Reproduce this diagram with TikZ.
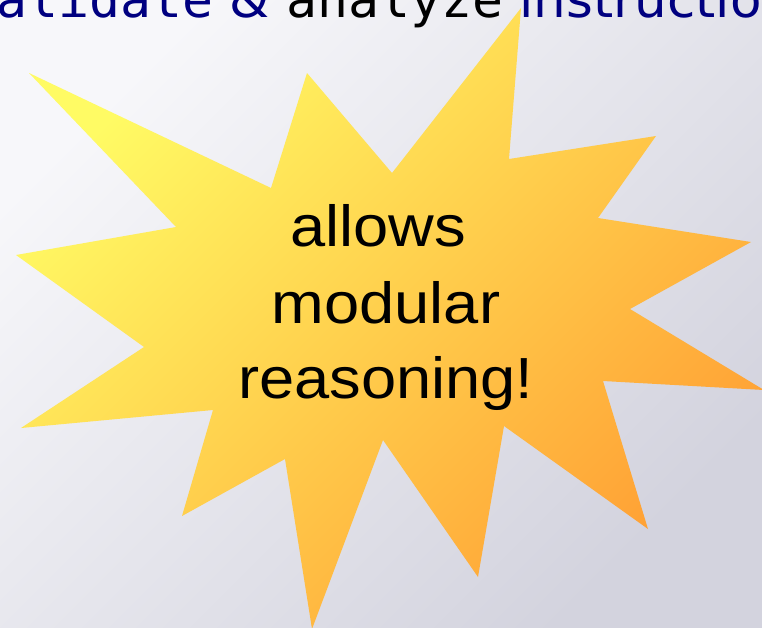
\documentclass[tikz,border=0pt]{standalone}
\usepackage{fontspec}
\setmainfont{Liberation Sans}
\newfontfamily\burstfont[FakeStretch=1.09]{Liberation Sans}
\newfontfamily\codefont[FakeStretch=1.03]{DejaVu Sans Mono}
\newfontfamily\titlefont[FakeStretch=1.03]{DejaVu Sans}
\definecolor{slidetop}{HTML}{F7F7FA}
\definecolor{slidebot}{HTML}{D3D3DE}
\definecolor{burstyellow}{HTML}{FFFB64}
\definecolor{burstorange}{HTML}{FFA034}
\definecolor{titlenavy}{HTML}{000080}
\tikzset{
  burst/.style={top color=burstyellow, bottom color=burstorange, shading angle=45},
  word/.style={anchor=base, inner sep=0pt, font=\burstfont\fontsize{58}{70}\selectfont}
}
\begin{document}
\begin{tikzpicture}[x=1pt, y=-1pt, line join=round]
    \useasboundingbox (0,0) rectangle (762,627);
    \clip (0,0) rectangle (762,627);
    \shade[top color=slidetop, bottom color=slidebot, shading angle=45] (0,0) rectangle (762,627);
    % heading, cut off by the top edge
    \node[anchor=base west, inner sep=0pt, text=titlenavy, font=\titlefont\fontsize{50}{60}\selectfont] (title) at (-4,17)
        {{\codefont alidate} \& {\codefont\color{black}analyze} instruction};
    \path
    (29,73) coordinate (t1)
    (271,188) coordinate (v1)
    (307,73) coordinate (t2)
    (392,173) coordinate (v2)
    (521,8) coordinate (t3)
    (509,159) coordinate (v3)
    (656,136) coordinate (t4)
    (598,218) coordinate (v4)
    (751,242) coordinate (t5)
    (630,309) coordinate (v5)
    (764,390) coordinate (t6)
    (603,381) coordinate (v6)
    (648,529) coordinate (t7)
    (504,426) coordinate (v7)
    (478,577) coordinate (t8)
    (383,440) coordinate (v8)
    (312,629) coordinate (t9)
    (285,459) coordinate (v9)
    (182,516) coordinate (t10)
    (213,410) coordinate (v10)
    (21,428) coordinate (t11)
    (144,347) coordinate (v11)
    (16,255) coordinate (t12)
    (176,227) coordinate (v12)
    ;
    \shade[burst] (t1) -- (v1) \foreach \i in {2,...,12}{ -- (t\i) -- (v\i)} -- cycle;

    \foreach \w/\x/\y [count=\k] in {allows/378/246, modular/386/323, reasoning!/386/398}{
        \node[word] (line\k) at (\x,\y) {\w};
    }
\end{tikzpicture}
\end{document}
